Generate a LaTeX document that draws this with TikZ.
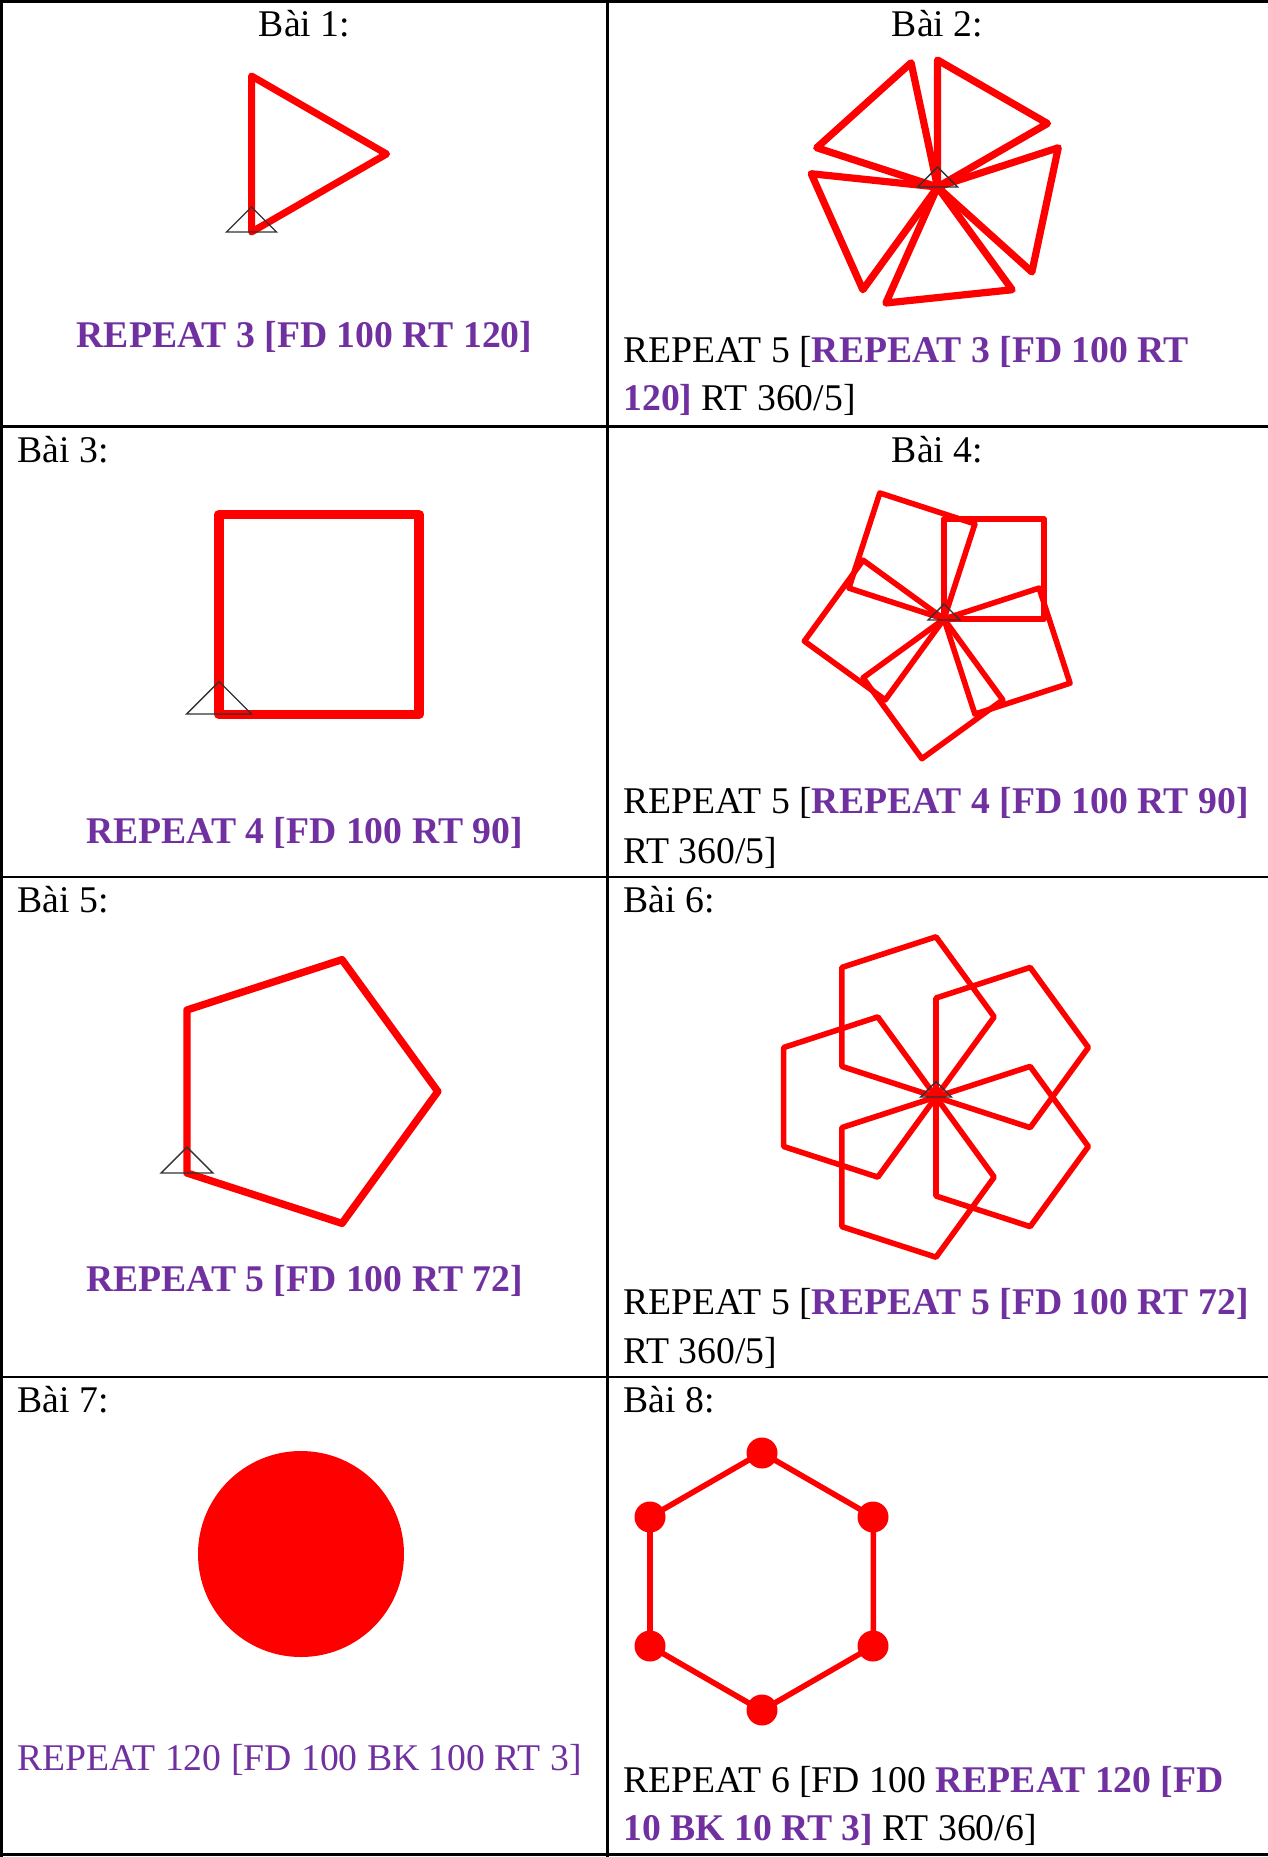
\documentclass[tikz,border=0pt]{standalone}
\usepackage{fontspec}
\setmainfont{Liberation Serif}
\usepackage{tikz}
\usetikzlibrary{positioning}
\definecolor{logored}{RGB}{255,0,0}
\definecolor{logopurple}{RGB}{112,48,160}
\definecolor{turtlegrey}{RGB}{50,50,50}
\newcommand{\cmdhl}[1]{\textcolor{logopurple}{\textbf{#1}}}
\newcommand{\turtleicon}[3]{\draw[turtle] (#1,#2) ++(-#3,0) -- ++(#3,-#3) -- ++(#3,#3) -- cycle;}

\begin{document}
\begin{tikzpicture}[
    x=0.5pt, y=-0.5pt,
    grid/.style={draw=black, line width=1.3pt},
    pen/.style={draw=logored, line join=round, line cap=round},
    turtle/.style={draw=turtlegrey, line width=0.7pt},
    txt/.style={inner sep=0pt, anchor=base west, font=\fontsize{18.85}{24.5}\selectfont},
    title/.style={txt, anchor=base},
    cmd/.style={txt, text=logopurple, font=\fontsize{18.85}{24.5}\selectfont\bfseries}
]
\useasboundingbox (0,0) rectangle (1268,1857);

% table
\draw[grid] (0,1.5) -- (1268,1.5);
\draw[grid] (0,426.5) -- (1268,426.5);
\draw[grid] (0,877) -- (1268,877);
\draw[grid] (0,1377) -- (1268,1377);
\draw[grid] (0,1854.5) -- (1268,1854.5);
\draw[grid] (1.5,0) -- (1.5,1857);
\draw[grid] (607.5,0) -- (607.5,1857);

% Bai 1
\node[title] (b1) at (304.5,37) {Bài 1:};
\draw[pen, line width=3.5pt] (251.5,232) -- ++(-90:156) -- ++(30:156) -- cycle;
\turtleicon{251.5}{232}{25}
\node[cmd, anchor=base] (c1) at (304.5,347) {REPEAT 3 [FD 100 RT 120]};

% Bai 2
\node[title] (b2) at (937.5,37) {Bài 2:};
\coordinate (o2) at (937.5,187);
\foreach \k in {0,...,4}
    \draw[pen, line width=3.6pt] (o2) -- ++(72*\k-90:127) -- ++(72*\k+30:127) -- cycle;
\turtleicon{937.5}{187}{20}
\node[txt] (c2a) at (623,362) {REPEAT 5 [\cmdhl{REPEAT 3 [FD 100 RT}};
\node[txt] (c2b) at (623,410) {\cmdhl{120]} RT 360/5]};

% Bai 3
\node[txt] (b3) at (17,462) {Bài 3:};
\draw[pen, line width=4.7pt] (219,714.5) -- ++(-90:200) -- ++(0:200) -- ++(90:200) -- cycle;
\turtleicon{219}{714}{32.5}
\node[cmd, anchor=base] (c3) at (304.5,843) {REPEAT 4 [FD 100 RT 90]};

% Bai 4
\node[title] (b4) at (937.5,462) {Bài 4:};
\coordinate (o4) at (944,619);
\foreach \k in {0,...,4}
    \draw[pen, line width=2.8pt] (o4) -- ++(72*\k-90:100) -- ++(72*\k:100) -- ++(72*\k+90:100) -- cycle;
\turtleicon{944}{620}{16}
\node[txt] (c4a) at (623,813) {REPEAT 5 [\cmdhl{REPEAT 4 [FD 100 RT 90]}};
\node[txt] (c4b) at (623,863) {RT 360/5]};

% Bai 5
\node[txt] (b5) at (17,912) {Bài 5:};
\draw[pen, line width=3.7pt] (187,1173) -- ++(-90:163) -- ++(-18:163) -- ++(54:163) -- ++(126:163) -- cycle;
\turtleicon{187}{1173}{26}
\node[cmd, anchor=base] (c5) at (304.5,1291) {REPEAT 5 [FD 100 RT 72]};

% Bai 6
\node[txt] (b6) at (623,912) {Bài 6:};
\coordinate (o6) at (936,1097);
\foreach \k in {0,...,4}
    \draw[pen, line width=2.8pt] (o6) -- ++(72*\k-90:99) -- ++(72*\k-18:99) -- ++(72*\k+54:99) -- ++(72*\k+126:99) -- cycle;
\turtleicon{936}{1097}{15.5}
\node[txt] (c6a) at (623,1314) {REPEAT 5 [\cmdhl{REPEAT 5 [FD 100 RT 72]}};
\node[txt] (c6b) at (623,1363) {RT 360/5]};

% Bai 7
\node[txt] (b7) at (17,1412) {Bài 7:};
\fill[logored] (301,1554) circle (103);
\node[txt, text=logopurple] (c7) at (17,1770) {REPEAT 120 [FD 100 BK 100 RT 3]};

% Bai 8
\node[txt] (b8) at (623,1412) {Bài 8:};
\draw[pen, line width=2.8pt] (650,1646) -- ++(-90:129) -- ++(-30:129) -- ++(30:129) -- ++(90:129) -- ++(150:129) -- cycle;
\foreach \p in {(650,1646),(650,1517),(762,1453),(873,1517),(873,1646),(762,1710)}
    \fill[logored] \p circle (15.5);
\node[txt] (c8a) at (623,1792) {REPEAT 6 [FD 100 \cmdhl{REPEAT 120 [FD}};
\node[txt] (c8b) at (623,1840) {\cmdhl{10 BK 10 RT 3]} RT 360/6]};
\end{tikzpicture}
\end{document}
